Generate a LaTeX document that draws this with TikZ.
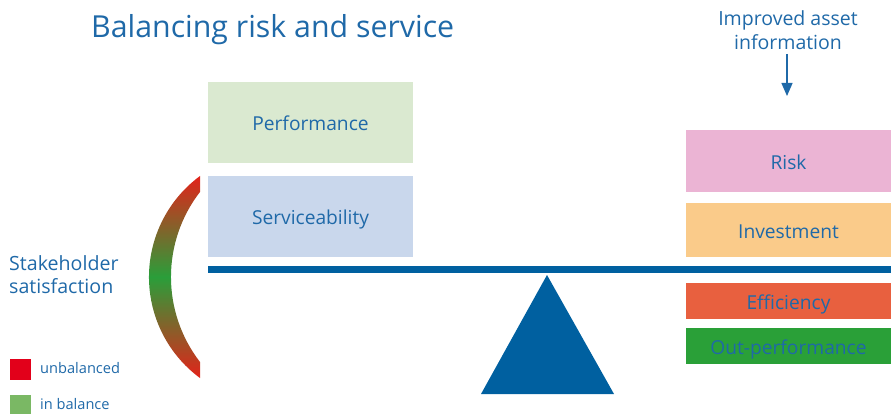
\documentclass[tikz,border=0pt]{standalone}
\usepackage{fontspec}
\setmainfont{Open Sans}
\usetikzlibrary{arrows.meta}
\definecolor{txtblue}{HTML}{1F69A8}
\definecolor{beamblue}{HTML}{0060A0}
\definecolor{perfgreen}{HTML}{DAE9D0}
\definecolor{servblue}{HTML}{C9D7EC}
\definecolor{riskpink}{HTML}{EBB4D4}
\definecolor{investorange}{HTML}{FACB8A}
\definecolor{effred}{HTML}{E8603F}
\definecolor{outgreen}{HTML}{2AA038}
\definecolor{arcred}{HTML}{E2231A}
\definecolor{arcgreen}{HTML}{2A9E3A}
\definecolor{legred}{HTML}{E2001A}
\definecolor{leggreen}{HTML}{7AB864}
\tikzset{
  lbl/.style={text=txtblue, font=\fontsize{19.2}{22}\selectfont},
  panel/.style={draw=none, minimum width=205pt, inner sep=0pt, lbl,
    text height=16.5pt, text depth=0pt},
  small/.style={text=txtblue, font=\fontsize{14.6}{17}\selectfont, inner sep=0pt, anchor=west}
}
\begin{document}
\begin{tikzpicture}[x=1pt, y=-1pt]
\useasboundingbox (0,0) rectangle (891,414);

% title
\node[text=txtblue, font=\fontsize{30.3}{36}\selectfont, anchor=west, inner sep=0pt] (title) at (91,30) {Balancing risk and service};

% left panels
\node[panel, fill=perfgreen, minimum height=81pt] (perf) at (310.5,122.5) {Performance};
\node[panel, fill=servblue, minimum height=81pt] (serv) at (310.5,216.5) {Serviceability};

% beam and pivot
\fill[beamblue] (208,266) rectangle (891,273);
\fill[beamblue] (547,275) -- (614,394) -- (481,394) -- cycle;

% right panels
\node[panel, fill=riskpink, minimum height=62pt] (risk) at (788.5,161.5) {Risk};
\node[panel, fill=investorange, minimum height=54pt] (invest) at (788.5,230) {Investment};
\node[panel, fill=effred, minimum height=36pt] (eff) at (788.5,301) {Efficiency};
\node[panel, fill=outgreen, minimum height=36pt] (outp) at (788.5,346) {Out-performance};

% incoming information
\node[lbl, align=center, font=\fontsize{19.5}{24}\selectfont, inner sep=0pt] (info) at (788,30) {Improved asset\\information};
\coordinate (infoend) at (787,96);
\draw[txtblue, line width=1.3pt, -{Triangle[width=11pt,length=13pt]}] (787,54) -- (infoend);

% satisfaction arc
\shade[top color=arcred, bottom color=arcred, middle color=arcgreen]
  (200,176) arc[start angle=233.6, end angle=126.4, radius=125.5]
  -- (200,362) arc[start angle=142.3, end angle=217.7, radius=139.07] -- cycle;
\node[lbl, align=left, font=\fontsize{19.6}{23}\selectfont, anchor=west, inner sep=0pt] (stake) at (9,275) {Stakeholder\\satisfaction};

% legend
\fill[legred] (10,359) rectangle (31,380);
\node[small] (unbal) at (40,368.5) {unbalanced};
\fill[leggreen] (10,395) rectangle (31,416);
\node[small] (inbal) at (40,404.5) {in balance};
\end{tikzpicture}
\end{document}
